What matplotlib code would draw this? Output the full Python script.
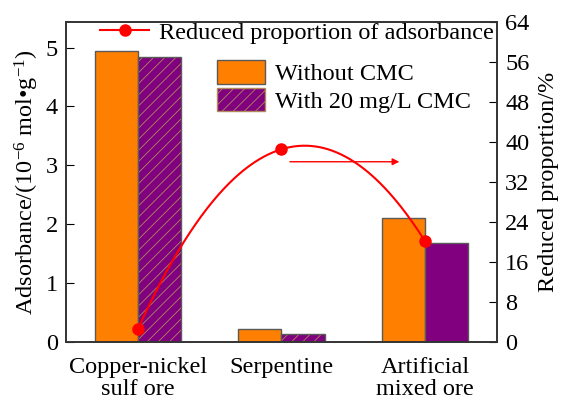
import numpy as np
import matplotlib
matplotlib.use("Agg")
import matplotlib.pyplot as plt
from matplotlib.patches import Patch
from matplotlib.lines import Line2D

plt.rcParams['font.family'] = ['Liberation Serif', 'DejaVu Serif']
plt.rcParams['mathtext.fontset'] = 'custom'
plt.rcParams['mathtext.rm'] = 'Liberation Serif'
plt.rcParams['mathtext.it'] = 'Liberation Serif:italic'
plt.rcParams['hatch.linewidth'] = 0.6

categories = ["Copper-nickel\nsulf ore", "Serpentine", "Artificial\nmixed ore"]
without_cmc = [4.95, 0.22, 2.1]
with_cmc = [4.84, 0.14, 1.68]
reduced = [2.5, 38.5, 20.1]
hatched = [True, True, False]
left_ticks = [0, 1, 2, 3, 4, 5]
right_ticks = [0, 8, 16, 24, 32, 40, 48, 56, 64]

orange = '#FF8000'
purple = '#800080'
edge = '#5a5a5a'
hatch_col = '#b08a5a'
fs = 17.5

fig = plt.figure(figsize=(5.64, 4.03), dpi=100)
ax = fig.add_axes([0.117, 0.152, 0.764, 0.794])
x = np.arange(len(categories))
w = 0.3

ax.bar(x - w/2, without_cmc, w, color=orange, edgecolor=edge, linewidth=1, zorder=2)
for xi, v, h in zip(x, with_cmc, hatched):
    if h:
        ax.bar(xi + w/2, v, w, color=purple, edgecolor=hatch_col, hatch='///', linewidth=0, zorder=2)
        ax.bar(xi + w/2, v, w, fill=False, edgecolor=edge, linewidth=1, zorder=3)
    else:
        ax.bar(xi + w/2, v, w, color=purple, edgecolor=edge, linewidth=1, zorder=2)

ax.set_xlim(-0.5, 2.5)
ax.set_ylim(0, 5.44)
ax.set_yticks(left_ticks)
ax.set_xticks(x)
ax.set_xticklabels(categories, fontsize=fs, linespacing=1.05)
ax.tick_params(axis='x', length=0, pad=11)
ax.tick_params(axis='y', direction='in', length=6, labelsize=fs, pad=6)
ax.set_ylabel(r'Adsorbance/(10$^{-6}$ mol•g$^{-1}$)', fontsize=fs, labelpad=3)

ax2 = ax.twinx()
coef = np.polyfit(x, reduced, 2)
xs = np.linspace(x[0], x[-1], 200)
ax2.plot(xs, np.polyval(coef, xs), color='red', linewidth=1.5, zorder=4)
ax2.plot(x, reduced, 'o', color='red', markersize=8, zorder=5)
ax2.set_ylim(0, 64)
ax2.set_yticks(right_ticks)
ax2.tick_params(axis='y', direction='in', length=6, labelsize=fs, pad=6)
ax2.set_ylabel('Reduced proportion/%', fontsize=fs, labelpad=6)
ax2.annotate('', xy=(1.84, 36), xytext=(1.04, 36),
             arrowprops=dict(arrowstyle='-|>', color='red', lw=1.0, mutation_scale=10))

for a in (ax, ax2):
    for s in a.spines.values():
        s.set_linewidth(1.2)
        s.set_color('#333333')

h_line = [Line2D([0], [0], color='red', marker='o', markersize=8, linewidth=1.5)]
leg1 = ax2.legend(h_line, ['Reduced proportion of adsorbance'], loc='upper left',
                  bbox_to_anchor=(0.057, 1.03), frameon=False, fontsize=fs,
                  handlelength=2.0, handletextpad=0.4, borderaxespad=0)
h_bar = [Patch(facecolor=orange, edgecolor=edge),
         Patch(facecolor=purple, edgecolor=hatch_col, hatch='///')]
leg2 = ax2.legend(h_bar, ['Without CMC', 'With 20 mg/L CMC'], loc='upper left',
                  bbox_to_anchor=(0.327, 0.91), frameon=False, fontsize=fs,
                  handlelength=2.0, handleheight=1.1, handletextpad=0.4,
                  labelspacing=0.1, borderaxespad=0)
ax2.add_artist(leg1)

fig.savefig('out.png', dpi=100)
